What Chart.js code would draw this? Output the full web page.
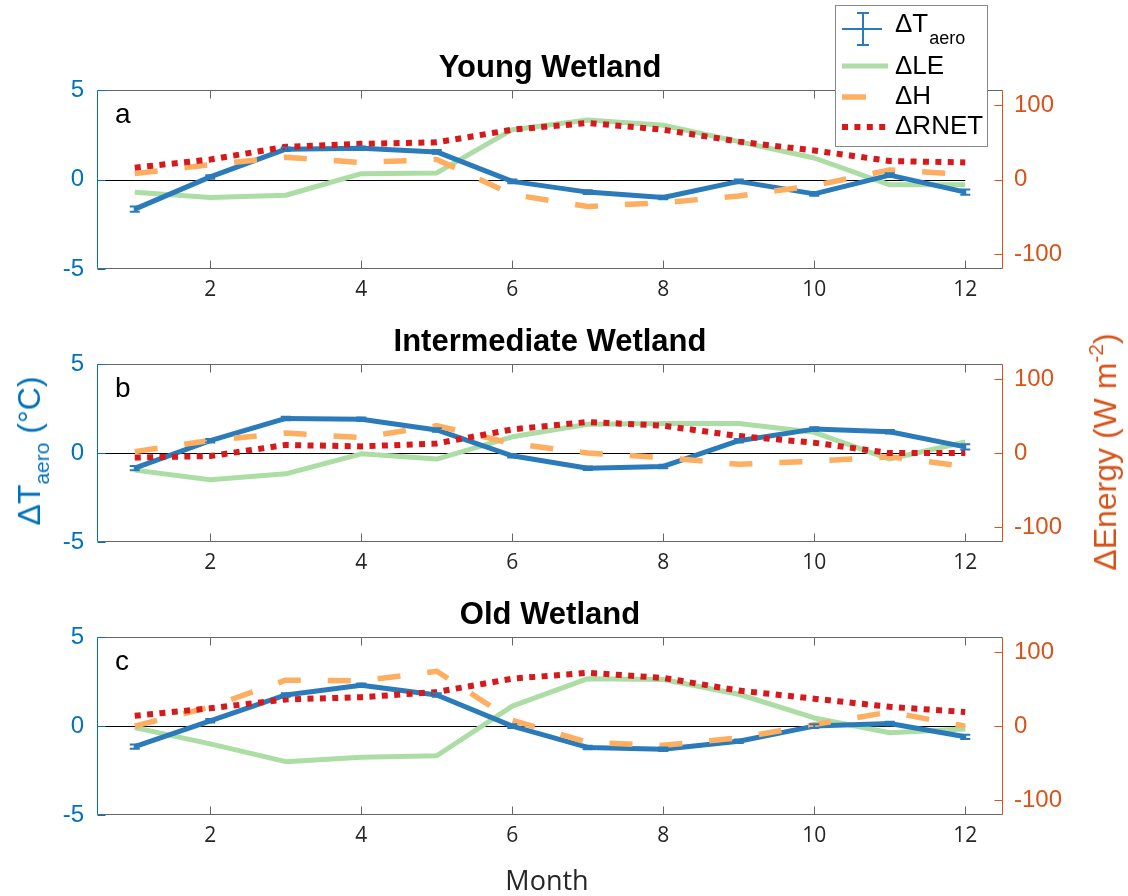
<!DOCTYPE html>
<html>
<head>
<meta charset="utf-8">
<script src="https://cdn.jsdelivr.net/npm/chart.js@4.4.0/dist/chart.umd.min.js"></script>
<style>
  body { margin: 0; background: #fff; width: 1128px; height: 896px; position: relative; overflow: hidden; }
  .panel { position: absolute; left: 0; width: 1128px; }
  .vlab { position: absolute; white-space: nowrap; line-height: 1; transform: translate(-50%, -50%) rotate(-90deg);
          font-family: Arial, "Liberation Sans", sans-serif; font-size: 32px; }
  .sub { font-size: 21px; position: relative; top: 9px; }
  .sup { font-size: 21px; position: relative; top: -13px; }
  #month { position: absolute; left: 547px; top: 879px; transform: translate(-50%, -50%);
           font-family: "Open Sans", sans-serif; font-size: 27px; color: #262626; }
</style>
</head>
<body>
<div class="panel" style="top:0;height:310px"><canvas id="young"></canvas></div>
<div class="panel" style="top:310px;height:272px"><canvas id="inter"></canvas></div>
<div class="panel" style="top:582px;height:314px"><canvas id="old"></canvas></div>

<div class="vlab" style="left:29px;top:451px;color:#0072BD">ΔT<span class="sub">aero</span> (°C)</div>
<div class="vlab" style="left:1105px;top:452px;color:#D95319">ΔEnergy (W m<span class="sup">-2</span>)</div>
<div id="month">Month</div>

<script>
const months = [1, 2, 3, 4, 5, 6, 7, 8, 9, 10, 11, 12];
const monthTicks = [2, 4, 6, 8, 10, 12];
const tempTicks = [-5, 0, 5];
const energyTicks = [-100, 0, 100];

// Young wetland
const youngT = [-1.65, 0.15, 1.7, 1.75, 1.55, -0.1, -0.7, -1.0, -0.1, -0.8, 0.25, -0.7];
const youngTErr = [0.15, 0.1, 0.1, 0.1, 0.1, 0.1, 0.1, 0.1, 0.1, 0.1, 0.1, 0.15];
const youngLE = [-17, -24, -21, 8, 9, 67, 80, 73, 51, 29, -7, -7];
const youngH = [8, 20, 30, 23, 27, -20, -36, -31, -22, -8, 13, 7];
const youngRNET = [16, 27, 44, 48, 50, 67, 76, 67, 51, 39, 25, 23];

// Intermediate wetland
const interT = [-0.85, 0.7, 1.95, 1.9, 1.3, -0.15, -0.85, -0.75, 0.7, 1.35, 1.2, 0.35];
const interTErr = [0.12, 0.1, 0.1, 0.1, 0.1, 0.1, 0.1, 0.1, 0.1, 0.1, 0.1, 0.15];
const interLE = [-23, -36, -28, -1, -8, 22, 39, 40, 40, 28, -8, 15];
const interH = [2, 17, 27, 21, 37, 13, 0, -6, -15, -11, -5, -18];
const interRNET = [-6, -4, 11, 9, 13, 32, 42, 37, 23, 14, 0, 0];

// Old wetland
const oldT = [-1.15, 0.3, 1.75, 2.3, 1.75, 0.0, -1.2, -1.3, -0.85, 0.0, 0.15, -0.6];
const oldTErr = [0.12, 0.1, 0.1, 0.1, 0.1, 0.1, 0.1, 0.1, 0.1, 0.1, 0.1, 0.12];
const oldLE = [-2, -24, -48, -42, -40, 27, 64, 63, 43, 11, -9, -4];
const oldH = [0, 26, 62, 61, 74, 8, -22, -26, -16, 2, 19, 0];
const oldRNET = [14, 24, 36, 39, 46, 64, 72, 65, 48, 37, 26, 19];

const blue = '#2b7bba';
const green = '#abdda4';
const orange = '#fdae61';
const red = '#d7191c';
const axisBlue = '#0072BD';
const axisOrange = '#D95319';
const arial = 'Arial, "Liberation Sans", sans-serif';

const panelBox = {
    id: 'panelBox',
    beforeDatasetsDraw(chart) {
        const {ctx, chartArea: a, scales: {x, y}} = chart;
        const y0 = Math.round(y.getPixelForValue(0)) + 0.5;
        ctx.save();
        ctx.strokeStyle = '#000';
        ctx.lineWidth = 1;
        ctx.beginPath();
        ctx.moveTo(a.left, y0);
        ctx.lineTo(x.getPixelForValue(12), y0);
        ctx.stroke();
        ctx.restore();
    },
    afterDatasetsDraw(chart, args, opts) {
        const {ctx, chartArea: a, scales: {x, y, y1}} = chart;
        ctx.save();

        // error bars on the temperature line
        chart.data.datasets.forEach(ds => {
            if (!ds.errors) return;
            ctx.strokeStyle = ds.borderColor;
            ctx.lineWidth = 2;
            ds.data.forEach((p, i) => {
                const px = x.getPixelForValue(p.x);
                const top = y.getPixelForValue(p.y + ds.errors[i]);
                const bot = y.getPixelForValue(p.y - ds.errors[i]);
                ctx.beginPath();
                ctx.moveTo(px, top); ctx.lineTo(px, bot);
                ctx.moveTo(px - 5, top); ctx.lineTo(px + 5, top);
                ctx.moveTo(px - 5, bot); ctx.lineTo(px + 5, bot);
                ctx.stroke();
            });
        });

        // axes box
        const L = Math.round(a.left) + 0.5, R = Math.round(a.right) - 0.5;
        const T = Math.round(a.top) + 0.5, B = Math.round(a.bottom) - 0.5;
        ctx.lineWidth = 1;
        ctx.strokeStyle = '#666';
        ctx.beginPath();
        ctx.moveTo(L, T); ctx.lineTo(R, T);
        ctx.moveTo(L, B); ctx.lineTo(R, B);
        monthTicks.forEach(v => {
            const px = Math.round(x.getPixelForValue(v)) + 0.5;
            ctx.moveTo(px, B); ctx.lineTo(px, B - 8);
            ctx.moveTo(px, T); ctx.lineTo(px, T + 8);
        });
        ctx.stroke();

        ctx.strokeStyle = axisBlue;
        ctx.beginPath();
        ctx.moveTo(L, T); ctx.lineTo(L, B);
        tempTicks.forEach(v => {
            const py = Math.round(y.getPixelForValue(v)) + 0.5;
            ctx.moveTo(L, py); ctx.lineTo(L + 8, py);
        });
        ctx.stroke();

        ctx.strokeStyle = axisOrange;
        ctx.beginPath();
        ctx.moveTo(R, T); ctx.lineTo(R, B);
        energyTicks.forEach(v => {
            const py = Math.round(y1.getPixelForValue(v)) + 0.5;
            ctx.moveTo(R, py); ctx.lineTo(R - 8, py);
        });
        ctx.stroke();

        // panel letter
        ctx.fillStyle = '#000';
        ctx.font = '28px ' + arial;
        ctx.textBaseline = 'middle';
        ctx.textAlign = 'left';
        ctx.fillText(opts.letter, a.left + 18, a.top + 25);

        if (opts.legend) drawLegend(chart);
        ctx.restore();
    }
};

function drawLegend(chart) {
    const ctx = chart.ctx;
    ctx.save();
    ctx.fillStyle = '#fff';
    ctx.fillRect(835, 5, 152, 141);
    ctx.strokeStyle = '#888';
    ctx.lineWidth = 1;
    ctx.strokeRect(835.5, 5.5, 152, 141);

    // ΔT aero with error bar symbol
    ctx.strokeStyle = blue;
    ctx.lineWidth = 2;
    ctx.beginPath();
    ctx.moveTo(842, 29); ctx.lineTo(882, 29);
    ctx.moveTo(863, 13); ctx.lineTo(863, 45);
    ctx.moveTo(857, 13); ctx.lineTo(869, 13);
    ctx.moveTo(857, 45); ctx.lineTo(869, 45);
    ctx.stroke();

    ctx.lineCap = 'butt';
    ctx.strokeStyle = green;
    ctx.lineWidth = 5;
    ctx.beginPath(); ctx.moveTo(842, 66); ctx.lineTo(888, 66); ctx.stroke();

    ctx.strokeStyle = orange;
    ctx.lineWidth = 5.5;
    ctx.beginPath(); ctx.moveTo(842, 97); ctx.lineTo(866, 97); ctx.stroke();

    ctx.strokeStyle = red;
    ctx.lineWidth = 6;
    ctx.setLineDash([6, 6.4]);
    ctx.beginPath(); ctx.moveTo(842, 127); ctx.lineTo(888, 127); ctx.stroke();
    ctx.setLineDash([]);

    ctx.fillStyle = '#000';
    ctx.textBaseline = 'middle';
    ctx.textAlign = 'left';
    ctx.font = '26px ' + arial;
    ctx.fillText('ΔT', 895, 25);
    const w = ctx.measureText('ΔT').width;
    ctx.font = '18px ' + arial;
    ctx.fillText('aero', 895 + w + 1, 39);
    ctx.font = '26px ' + arial;
    ctx.fillText('ΔLE', 895, 67);
    ctx.fillText('ΔH', 895, 97);
    ctx.fillText('ΔRNET', 895, 127);
    ctx.restore();
}

function makePanel(id, title, letter, T, TErr, LE, H, RN, padTop, padBottom, withLegend) {
    const pts = arr => arr.map((v, i) => ({x: months[i], y: v}));
    return new Chart(document.getElementById(id), {
        type: 'line',
        data: {
            datasets: [
                { label: 'ΔRNET', data: pts(RN), yAxisID: 'y1', borderColor: red, borderWidth: 6, borderDash: [6, 6.4], order: 0 },
                { label: 'ΔH', data: pts(H), yAxisID: 'y1', borderColor: orange, borderWidth: 5.5, borderDash: [23, 27], order: 1 },
                { label: 'ΔTaero', data: pts(T), yAxisID: 'y', borderColor: blue, borderWidth: 5, order: 2, errors: TErr },
                { label: 'ΔLE', data: pts(LE), yAxisID: 'y1', borderColor: green, borderWidth: 5, order: 3 }
            ]
        },
        options: {
            animation: false,
            responsive: true,
            maintainAspectRatio: false,
            layout: { padding: { top: padTop, bottom: padBottom, left: 0, right: 0 } },
            elements: {
                point: { radius: 0 },
                line: { tension: 0, fill: false, borderCapStyle: 'butt', borderJoinStyle: 'round' }
            },
            plugins: {
                legend: { display: false },
                tooltip: { enabled: false },
                title: {
                    display: true,
                    fullSize: false,
                    text: title,
                    color: '#000',
                    font: { family: arial, size: 31, weight: 'bold' },
                    padding: { top: 0, bottom: 3 }
                },
                panelBox: { letter: letter, legend: withLegend }
            },
            scales: {
                x: {
                    type: 'linear', min: 0.5, max: 12.5,
                    grid: { display: false, drawTicks: false },
                    border: { display: false },
                    afterBuildTicks: s => { s.ticks = monthTicks.map(v => ({value: v})); },
                    afterFit: s => { s.height = 40; },
                    ticks: { color: '#262626', font: { family: '"Open Sans", sans-serif', size: 21 }, padding: 8, maxRotation: 0, autoSkip: false }
                },
                y: {
                    position: 'left', min: -5, max: 5,
                    grid: { display: false, drawTicks: false },
                    border: { display: false },
                    afterBuildTicks: s => { s.ticks = tempTicks.map(v => ({value: v})); },
                    afterFit: s => { s.width = 97; },
                    ticks: { color: axisBlue, font: { family: arial, size: 24 }, padding: 13 }
                },
                y1: {
                    position: 'right', min: -120, max: 120,
                    grid: { display: false, drawTicks: false },
                    border: { display: false },
                    afterBuildTicks: s => { s.ticks = energyTicks.map(v => ({value: v})); },
                    afterFit: s => { s.width = 125; },
                    ticks: { color: axisOrange, font: { family: arial, size: 24 }, padding: 11 }
                }
            }
        },
        plugins: [panelBox]
    });
}

makePanel('young', 'Young Wetland', 'a', youngT, youngTErr, youngLE, youngH, youngRNET, 50, 1, true);
makePanel('inter', 'Intermediate Wetland', 'b', interT, interTErr, interLE, interH, interRNET, 14, 0, false);
makePanel('old', 'Old Wetland', 'c', oldT, oldTErr, oldLE, oldH, oldRNET, 15, 41, false);
</script>
</body>
</html>
